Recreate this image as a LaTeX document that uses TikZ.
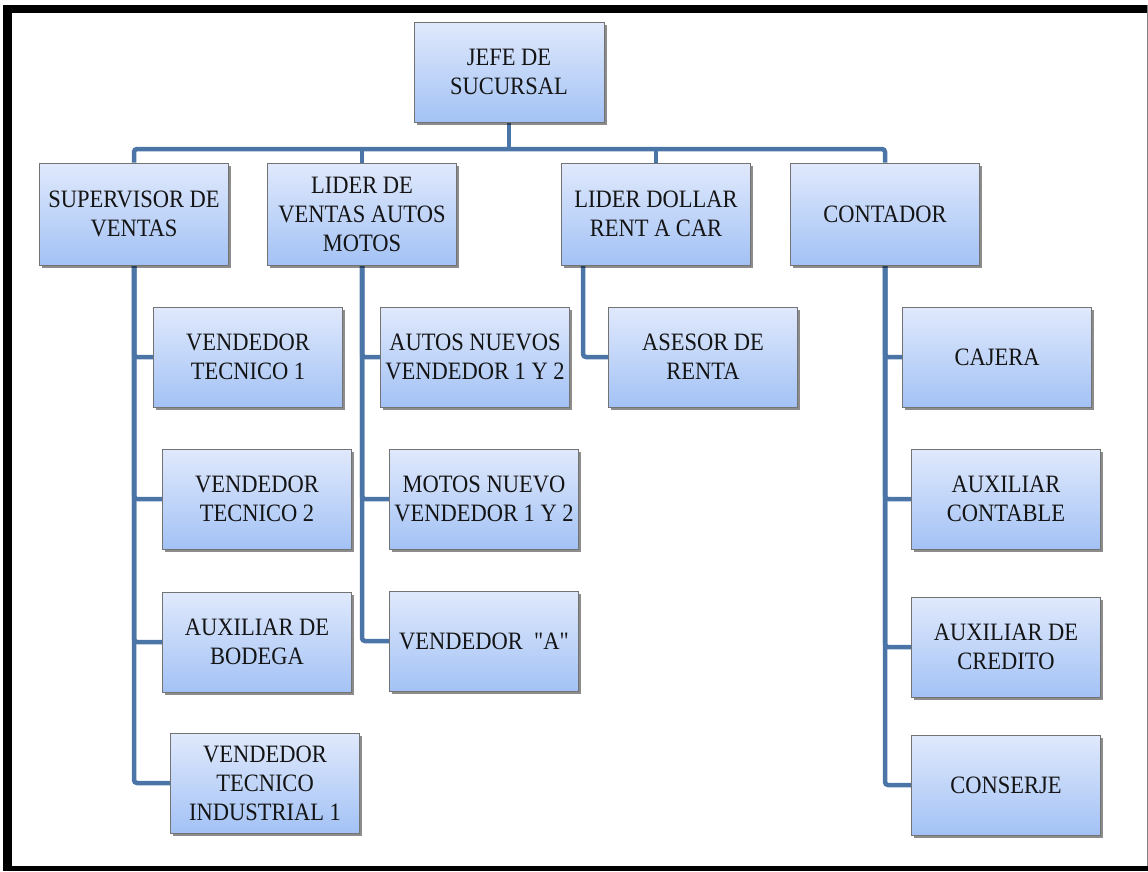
\documentclass[tikz,border=0pt]{standalone}
\usepackage{fontspec}
\setmainfont{Liberation Serif}[FakeStretch=0.9]
\newfontfamily\plainQuote{Liberation Serif}[FakeStretch=0.9]
\usetikzlibrary{shadows,backgrounds}
\definecolor{boxTop}{RGB}{224,233,252}
\definecolor{boxBottom}{RGB}{163,194,245}
\definecolor{boxLine}{RGB}{115,115,115}
\definecolor{linkBlue}{RGB}{74,117,166}

\tikzset{
  orgBox/.style={draw=boxLine, line width=0.8pt, top color=boxTop, bottom color=boxBottom,
    minimum width=189pt, minimum height=100pt, align=center, inner sep=2pt,
    font=\fontsize{25}{29}\selectfont, text=black!92,
    drop shadow={shadow xshift=2.5pt, shadow yshift=-2.5pt, opacity=0.45, fill=black}},
  orgLink/.style={draw=linkBlue, line width=4.5pt, rounded corners=3pt},
}

\begin{document}
\begin{tikzpicture}[x=1pt,y=-1pt]
\useasboundingbox (0,0) rectangle (1148,871);
% frame
\fill[black] (3,5) rectangle (1148,13);
\fill[black] (3,5) rectangle (12,871);
\fill[black] (3,866) rectangle (1148,871);
\draw[gray, line width=1pt] (1147,5) -- (1147,866);

% top
\node[orgBox, minimum width=190pt] (jefe) at (509,72) {JEFE DE\\SUCURSAL};

% second row
\node[orgBox, minimum height=102pt] (sup) at (134,214) {SUPERVISOR DE\\VENTAS};
\node[orgBox, minimum height=102pt] (lva) at (362,214) {LIDER DE\\VENTAS AUTOS\\MOTOS};
\node[orgBox, minimum height=102pt] (ldr) at (656,214) {LIDER DOLLAR\\RENT A CAR};
\node[orgBox, minimum height=102pt] (cont) at (885,214) {CONTADOR};

% under supervisor
\node[orgBox] (vt1) at (248,357) {VENDEDOR\\TECNICO 1};
\node[orgBox] (vt2) at (257,499) {VENDEDOR\\TECNICO 2};
\node[orgBox] (bod) at (257,642) {AUXILIAR DE\\BODEGA};
\node[orgBox] (vti) at (265,783) {VENDEDOR\\TECNICO\\INDUSTRIAL 1};

% under lider de ventas
\node[orgBox] (autos) at (475,357) {AUTOS NUEVOS\\VENDEDOR 1 Y 2};
\node[orgBox] (motos) at (484,499) {MOTOS NUEVO\\VENDEDOR 1 Y 2};
\node[orgBox] (vendA) at (484,641) {\plainQuote VENDEDOR\ \ "A"};

% under lider dollar
\node[orgBox] (asesor) at (703,357) {ASESOR DE\\RENTA};

% under contador
\node[orgBox] (cajera) at (997,357) {CAJERA};
\node[orgBox] (auxCont) at (1006,499) {AUXILIAR\\CONTABLE};
\node[orgBox] (auxCred) at (1006,647) {AUXILIAR DE\\CREDITO};
\node[orgBox] (conserje) at (1006,785) {CONSERJE};

\begin{scope}[on background layer]
\coordinate (bus) at (511,149);
\draw[orgLink] (jefe.south) -- (jefe.south |- bus);
\draw[orgLink] (sup.north) |- (bus) -| (cont.north);
\draw[orgLink] (lva.north) -- (lva.north |- bus);
\draw[orgLink] (ldr.north) -- (ldr.north |- bus);
% spines
\foreach \kid in {vt1,vt2,bod,vti}
  \draw[orgLink] (sup.south) |- (\kid.west);
\foreach \kid in {autos,motos,vendA}
  \draw[orgLink] (lva.south) |- (\kid.west);
\draw[orgLink] ([xshift=-73pt]ldr.south) |- (asesor.west);
\foreach \kid in {cajera,auxCont,auxCred,conserje}
  \draw[orgLink] (cont.south) |- (\kid.west);
\end{scope}
\end{tikzpicture}
\end{document}
